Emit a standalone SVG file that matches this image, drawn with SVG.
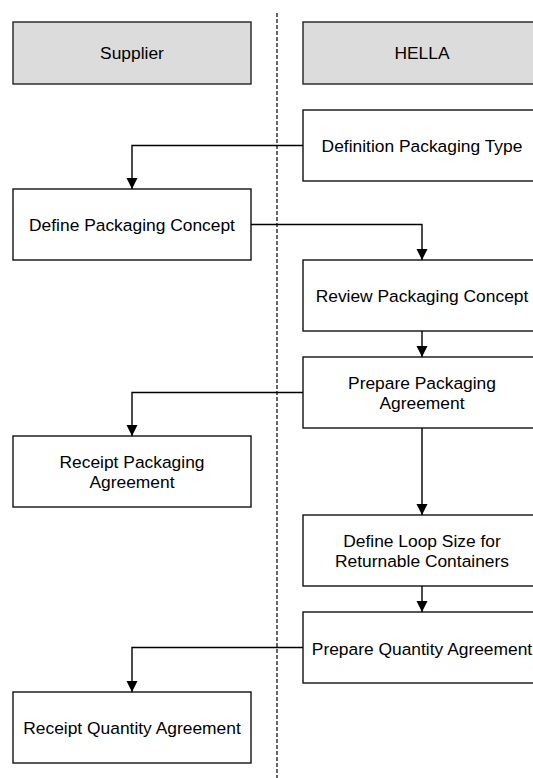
<svg xmlns="http://www.w3.org/2000/svg" width="533" height="778" viewBox="0 0 533 778">
<style>
.box{fill:#fff;stroke:#111;stroke-width:1.4}
.hdr{fill:#dcdcdc;stroke:#222;stroke-width:1.4}
.t{font-family:"Liberation Sans",Arial,sans-serif;font-size:17.4px;fill:#000;text-anchor:middle}
.c{fill:none;stroke:#000;stroke-width:1.4}
.lane{stroke:#000;stroke-width:1.2;stroke-dasharray:4 2}
</style>
<defs>
<marker id="ah" markerUnits="userSpaceOnUse" markerWidth="12" markerHeight="12" viewBox="0 0 12 12" refX="11" refY="6" orient="auto">
<path d="M0,0.5 L11,6 L0,11.5 Z" fill="#000"/>
</marker>
</defs>
<rect width="533" height="778" fill="#fff"/>
<line class="lane" x1="277" y1="13" x2="277" y2="778"/>
<g id="lane-supplier"><rect class="hdr" x="13" y="22" width="238" height="62"/><text class="t" x="132" y="59">Supplier</text></g>
<g id="lane-hella"><rect class="hdr" x="303" y="22" width="238" height="62"/><text class="t" x="422" y="59">HELLA</text></g>
<g id="n1"><rect class="box" x="303" y="110" width="238" height="71"/><text class="t" x="422" y="152">Definition Packaging Type</text></g>
<g id="n2"><rect class="box" x="13" y="189" width="238" height="71"/><text class="t" x="132" y="231">Define Packaging Concept</text></g>
<g id="n3"><rect class="box" x="303" y="260" width="238" height="71"/><text class="t" x="422" y="302">Review Packaging Concept</text></g>
<g id="n4"><rect class="box" x="303" y="357" width="238" height="71"/><text class="t" x="422" y="389">Prepare Packaging</text><text class="t" x="422" y="409">Agreement</text></g>
<g id="n5"><rect class="box" x="13" y="436" width="238" height="71"/><text class="t" x="132" y="468">Receipt Packaging</text><text class="t" x="132" y="488">Agreement</text></g>
<g id="n6"><rect class="box" x="303" y="515" width="238" height="71"/><text class="t" x="422" y="547">Define Loop Size for</text><text class="t" x="422" y="567">Returnable Containers</text></g>
<g id="n7"><rect class="box" x="303" y="612" width="238" height="71"/><text class="t" x="422" y="654.5">Prepare Quantity Agreement</text></g>
<g id="n8"><rect class="box" x="13" y="692" width="238" height="71"/><text class="t" x="132" y="734">Receipt Quantity Agreement</text></g>
<g id="connectors">
<path class="c" d="M303,145.5 H132 V189" marker-end="url(#ah)"/>
<path class="c" d="M251,224.5 H422 V260" marker-end="url(#ah)"/>
<path class="c" d="M422,331 V357" marker-end="url(#ah)"/>
<path class="c" d="M303,392.5 H132 V436" marker-end="url(#ah)"/>
<path class="c" d="M422,428 V515" marker-end="url(#ah)"/>
<path class="c" d="M422,586 V612" marker-end="url(#ah)"/>
<path class="c" d="M303,647.5 H132 V692" marker-end="url(#ah)"/>
</g>
</svg>
